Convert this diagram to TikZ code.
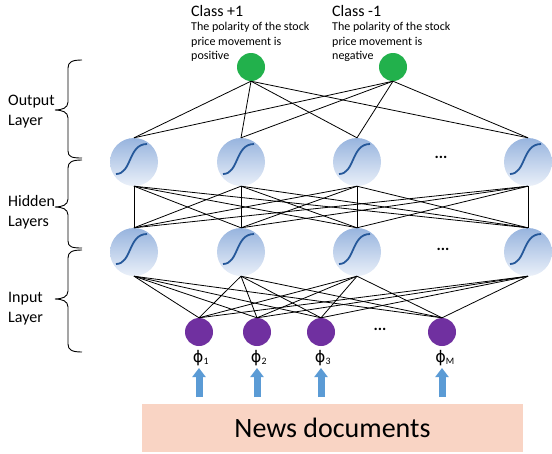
\documentclass[tikz,border=0pt]{standalone}
\usepackage{fontspec}
\setmainfont{Carlito}
\newfontfamily\phifont{DejaVu Sans}
\usetikzlibrary{arrows.meta}
\definecolor{outgreen}{RGB}{34,177,76}
\definecolor{inpurple}{RGB}{112,48,160}
\definecolor{arrowblue}{RGB}{91,155,213}
\definecolor{sigtop}{RGB}{151,180,222}
\definecolor{sigbot}{RGB}{234,240,249}
\definecolor{sigline}{RGB}{37,88,154}
\definecolor{newsfill}{RGB}{249,212,196}
\begin{document}
\begin{tikzpicture}[x=1pt,y=-1pt,
  outnode/.style={circle,fill=outgreen,minimum size=28pt,inner sep=0pt},
  innode/.style={circle,fill=inpurple,minimum size=28pt,inner sep=0pt},
  signode/.style={circle,minimum size=48pt,inner sep=0pt,top color=sigtop,bottom color=sigbot,draw=none},
  sigcurve/.style={draw=sigline,line width=1.8pt},
  conn/.style={draw=black,line width=0.8pt},
  bracepath/.style={draw=black,line width=0.9pt},
  classlbl/.style={anchor=base west,inner sep=0pt,font=\fontsize{16}{19}\selectfont},
  desclbl/.style={anchor=base west,inner sep=0pt,align=left,font=\fontsize{12}{14.3}\selectfont},
  layerlbl/.style={anchor=base west,inner sep=0pt,align=left,font=\fontsize{16}{19.5}\selectfont},
  dotslbl/.style={inner sep=0pt,font=\fontsize{16}{19}\selectfont\bfseries},
  phil/.style={anchor=base,inner sep=0pt,font=\fontsize{14}{17}\selectfont},
  blockarrow/.style={draw=arrowblue,line width=7pt,-{Triangle[width=13pt,length=9pt]}},
  newsbox/.style={fill=newsfill,draw=none,minimum width=381pt,minimum height=48pt,inner sep=0pt,font=\fontsize{28}{32}\selectfont}
]
\useasboundingbox (0,0) rectangle (552,453);

% news box
\node[newsbox] (news) at (332.5,428) {News documents};

% output layer
\node[outnode] (o1) at (251,67) {};
\node[outnode] (o2) at (393,67) {};
\node[classlbl] (c1) at (191,16) {Class +1};
\node[classlbl] (c2) at (332,16) {Class -1};
\node[desclbl] (d1) at (191,59.3) {The polarity of the stock\\price movement is\\positive};
\node[desclbl] (d2) at (332,59.3) {The polarity of the stock\\price movement is\\negative};

% hidden layers
\node[signode] (h1) at (134,162) {};
\node[signode] (h2) at (241,162) {};
\node[signode] (h3) at (357,162) {};
\node[signode] (h4) at (528,162) {};
\node[signode] (g1) at (134,252) {};
\node[signode] (g2) at (241,252) {};
\node[signode] (g3) at (357,252) {};
\node[signode] (g4) at (528,252) {};
\node[dotslbl] (hd1) at (441,157) {...};
\node[dotslbl] (hd2) at (443,249) {...};

\foreach \n in {h1,h2,h3,h4,g1,g2,g3,g4}
  \draw[sigcurve] ([shift={(-18,12)}]\n.center) .. controls ([shift={(-2,12)}]\n.center) and ([shift={(-6,-18)}]\n.center) .. ([shift={(13,-18)}]\n.center);

% input layer
\node[innode] (i1) at (199,332) {};
\node[innode] (i2) at (257,332) {};
\node[innode] (i3) at (321,332) {};
\node[innode] (i4) at (442,332) {};
\node[dotslbl] (id) at (380,329) {...};

\node[phil] (p1) at (201,362) {{\phifont\fontsize{16}{18}\selectfont ϕ}\textsubscript{1}};
\node[phil] (p2) at (259,362) {{\phifont\fontsize{16}{18}\selectfont ϕ}\textsubscript{2}};
\node[phil] (p3) at (323,362) {{\phifont\fontsize{16}{18}\selectfont ϕ}\textsubscript{3}};
\node[phil] (p4) at (445,362) {{\phifont\fontsize{16}{18}\selectfont ϕ}\textsubscript{M}};

% arrows from news documents
\coordinate (a1s) at (199,397); \coordinate (a1e) at (199,368);
\coordinate (a2s) at (257,397); \coordinate (a2e) at (257,368);
\coordinate (a3s) at (321,397); \coordinate (a3e) at (321,368);
\coordinate (a4s) at (442,397); \coordinate (a4e) at (442,368);
\draw[blockarrow] (a1s) -- (a1e);
\draw[blockarrow] (a2s) -- (a2e);
\draw[blockarrow] (a3s) -- (a3e);
\draw[blockarrow] (a4s) -- (a4e);

% connections
\foreach \a in {o1,o2}
  \foreach \b in {h1,h2,h3,h4}
    \draw[conn] (\a.south) -- (\b.north);
\foreach \a in {h1,h2,h3,h4}
  \foreach \b in {g1,g2,g3,g4}
    \draw[conn] (\a.south) -- (\b.north);
\foreach \a in {g1,g2,g3,g4}
  \foreach \b in {i1,i2,i3,i4}
    \draw[conn] (\a.south) -- (\b.north);

% braces
\draw[bracepath] (82,60) .. controls (72,60) and (68,62) .. (68,68) -- (68,102) .. controls (68,108) and (62,110) .. (55,110) .. controls (62,110) and (68,112) .. (68,118) -- (68,151) .. controls (68,157) and (72,158) .. (82,158);
\draw[bracepath] (82,160) .. controls (72,160) and (68,162) .. (68,168) -- (68,199) .. controls (68,205) and (62,207) .. (55,207) .. controls (62,207) and (68,209) .. (68,215) -- (68,241) .. controls (68,247) and (72,248) .. (82,248);
\draw[bracepath] (82,250) .. controls (72,250) and (68,252) .. (68,258) -- (68,291) .. controls (68,297) and (62,299) .. (55,299) .. controls (62,299) and (68,301) .. (68,307) -- (68,344) .. controls (68,350) and (72,352) .. (82,352);

\node[layerlbl] (lo) at (8,125) {Output\\Layer};
\node[layerlbl] (lh) at (8,226) {Hidden\\Layers};
\node[layerlbl] (li) at (8,322) {Input\\Layer};
\end{tikzpicture}
\end{document}
